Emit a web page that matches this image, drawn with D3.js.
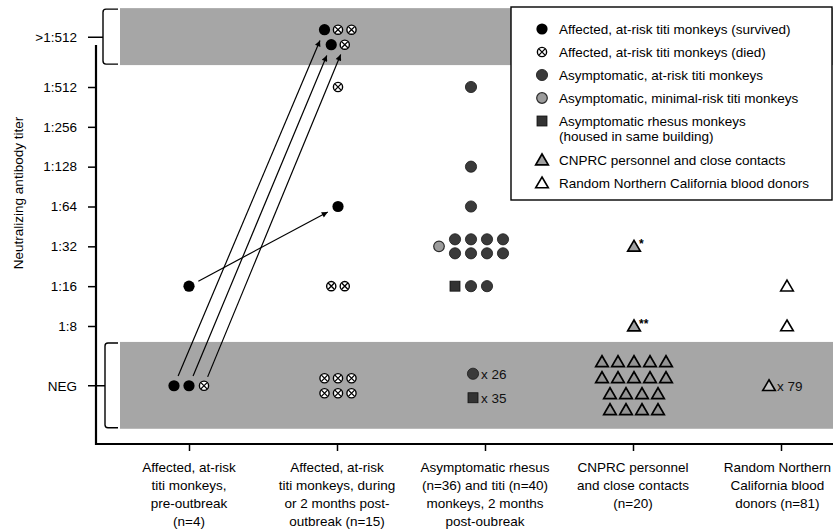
<!DOCTYPE html>
<html><head><meta charset="utf-8">
<script src="https://cdn.jsdelivr.net/npm/d3@7"></script>
<style>
body{margin:0;background:#fff}
svg{display:block;font-family:"Liberation Sans",Arial,sans-serif}
</style>
</head><body>
<svg id="c" width="833" height="529"></svg>
<script>
// ---------- DATA ----------
const groups = ["pre","during","post","cnprc","donors"];
const groupLabels = [
  ["Affected, at-risk","titi monkeys,","pre-outbreak","(n=4)"],
  ["Affected, at-risk","titi monkeys, during","or 2 months post-","outbreak (n=15)"],
  ["Asymptomatic rhesus","(n=36) and titi (n=40)","monkeys, 2 months","post-oubreak"],
  ["CNPRC personnel","and close contacts","(n=20)"],
  ["Random Northern","California blood","donors (n=81)"]
];
const titerLabels = ["NEG","1:8","1:16","1:32","1:64","1:128","1:256","1:512",">1:512"];
const titerLog2   = [1.5, 3, 4, 5, 6, 7, 8, 9, 10.25];
// [group, titer, count]
const survived    = [["pre","NEG",2],["pre","1:16",1],["during",">1:512",2],["during","1:64",1]];
const died        = [["pre","NEG",1],["during",">1:512",3],["during","1:512",1],["during","1:16",2],["during","NEG",6]];
const asymAtRisk  = [["post","1:512",1],["post","1:128",1],["post","1:64",1],["post","1:32",8],["post","1:16",2],["post","NEG",26]];
const asymMinimal = [["post","1:32",1]];
const rhesus      = [["post","1:16",1],["post","NEG",35]];
const cnprc       = [["cnprc","1:32",1],["cnprc","1:8",1],["cnprc","NEG",18]];
const donors      = [["donors","1:16",1],["donors","1:8",1],["donors","NEG",79]];
const legendLabels = [
  ["Affected, at-risk titi monkeys (survived)"],
  ["Affected, at-risk titi monkeys (died)"],
  ["Asymptomatic, at-risk titi monkeys"],
  ["Asymptomatic, minimal-risk titi monkeys"],
  ["Asymptomatic rhesus monkeys","(housed in same building)"],
  ["CNPRC personnel and close contacts"],
  ["Random Northern California blood donors"]
];
const notes = [["cnprc","1:32","*"],["cnprc","1:8","**"]];
// [fromSeries, group, titer, index, toSeries, group, titer, index]
const arrows = [
  ["survived","pre","NEG",0,"survived","during",">1:512",0],
  ["survived","pre","NEG",1,"survived","during",">1:512",1],
  ["died","pre","NEG",0,"died","during",">1:512",2],
  ["survived","pre","1:16",0,"survived","during","1:64",0]
];
const yTitle = "Neutralizing antibody titer";

// ---------- SETUP ----------
const FS = 13.5;
const svg = d3.select("#c");
const x = d3.scalePoint().domain(groups).range([189, 781]);
const y = d3.scaleLinear().domain([3, 9]).range([326, 87]);
const yOf = t => y(titerLog2[titerLabels.indexOf(t)]);

const seriesDefs = [
  {key:"survived", data:survived},
  {key:"died", data:died},
  {key:"asymAtRisk", data:asymAtRisk},
  {key:"asymMinimal", data:asymMinimal},
  {key:"rhesus", data:rhesus},
  {key:"cnprc", data:cnprc},
  {key:"donors", data:donors}
];
const cellOrder = ["rhesus","asymMinimal","survived","died","asymAtRisk","cnprc","donors"];
const collapseAt = 20;
const perRow = [3,3,5,5,5], dxs=[15,13.5,16,16,16], dys=[14,15,14,16,16], shifts=[0,1,-14,1,6];

function drawSymbol(g, key){
  if(key==="survived"){
    g.append("circle").attr("r",5.6).attr("fill","#000");
  } else if(key==="died"){
    g.append("circle").attr("r",4.6).attr("fill","#fff").attr("stroke","#000").attr("stroke-width",1.4);
    const k=3.1;
    g.append("path").attr("d",`M${-k},${-k}L${k},${k}M${-k},${k}L${k},${-k}`).attr("stroke","#000").attr("stroke-width",1.3);
  } else if(key==="asymAtRisk"){
    g.append("circle").attr("r",5.6).attr("fill","#3a3a3a").attr("stroke","#1a1a1a").attr("stroke-width",0.8);
  } else if(key==="asymMinimal"){
    g.append("circle").attr("r",5.3).attr("fill","#9c9c9c").attr("stroke","#2a2a2a").attr("stroke-width",1.2);
  } else if(key==="rhesus"){
    g.append("rect").attr("x",-5).attr("y",-5).attr("width",10).attr("height",10).attr("fill","#333").attr("stroke","#111").attr("stroke-width",0.8);
  } else if(key==="cnprc"){
    g.append("path").attr("d","M0,-6L6.3,4.8L-6.3,4.8Z").attr("fill","#8f8f8f").attr("fill-opacity",0.85).attr("stroke","#000").attr("stroke-width",1.7).attr("stroke-linejoin","miter");
  } else if(key==="donors"){
    g.append("path").attr("d","M0,-6L6.3,4.8L-6.3,4.8Z").attr("fill","#fff").attr("fill-opacity",0.35).attr("stroke","#000").attr("stroke-width",1.6).attr("stroke-linejoin","miter");
  }
}
const radius = {survived:5.6, died:4.6, asymAtRisk:5.6, asymMinimal:5.3, rhesus:5, cnprc:6, donors:6};

// ---------- LAYOUT ----------
const points = [], collapsed = [];
groups.forEach((g,gi)=>{
  titerLabels.forEach(t=>{
    const entries = [];
    seriesDefs.forEach(s=>s.data.forEach(d=>{ if(d[0]===g && d[1]===t) entries.push({key:s.key, n:d[2]}); }));
    if(!entries.length) return;
    const coll = entries.filter(e=>e.n>collapseAt);
    const exp = entries.filter(e=>e.n<=collapseAt).sort((a,b)=>cellOrder.indexOf(a.key)-cellOrder.indexOf(b.key));
    coll.forEach((e,k)=>collapsed.push({key:e.key, n:e.n, x:x(g)-12, y:yOf(t)+(k-(coll.length-1)/2)*24}));
    if(!exp.length) return;
    const total = d3.sum(exp,e=>e.n);
    const cx = x(g)+shifts[gi], cy = yOf(t), dx = dxs[gi], dy = dys[gi];
    const R = Math.ceil(total/perRow[gi]);
    if(R===1){
      let j=0;
      exp.forEach(e=>{ for(let i=0;i<e.n;i++){ points.push({key:e.key,g,t,i,x:cx+(j-(total-1)/2)*dx,y:cy}); j++; } });
    } else {
      const side = exp.filter(e=>e.n===1), main = exp.filter(e=>e.n>1);
      const rows = d3.range(R).map(()=>[]);
      main.forEach(e=>{
        const base=Math.floor(e.n/R), rem=e.n%R; let idx=0;
        for(let r=0;r<R;r++){ const c=base+(r<rem?1:0); for(let j=0;j<c;j++) rows[r].push({key:e.key,i:idx++}); }
      });
      const maxL = d3.max(rows,r=>r.length), W = side.length+maxL;
      const colX = c => cx+(c-(W-1)/2)*dx;
      side.forEach((e,c)=>points.push({key:e.key,g,t,i:0,x:colX(c),y:cy}));
      rows.forEach((row,r)=>{
        const off = side.length+(maxL-row.length)/2;
        row.forEach((p,j)=>points.push({key:p.key,g,t,i:p.i,x:colX(off+j),y:cy+(r-(R-1)/2)*dy}));
      });
    }
  });
});
const findPt = (k,g,t,i)=>points.find(p=>p.key===k&&p.g===g&&p.t===t&&p.i===i);

// ---------- BANDS ----------
const bandX0 = 120;
svg.append("rect").attr("x",bandX0).attr("y",y(10.98)).attr("width",833-bandX0).attr("height",y(9.55)-y(10.98)).attr("fill","#a6a6a6");
svg.append("rect").attr("x",bandX0).attr("y",y(2.6)).attr("width",833-bandX0).attr("height",y(0.42)-y(2.6)).attr("fill","#a6a6a6");

function bracket(bx, y0, y1, ym){
  svg.append("path").attr("d",`M118,${y0}L${bx+3},${y0}Q${bx},${y0} ${bx},${y0+3}L${bx},${y1-3}Q${bx},${y1} ${bx+3},${y1}L118,${y1}M88,${ym}L${bx},${ym}`)
    .attr("fill","none").attr("stroke","#000").attr("stroke-width",1.4);
}
bracket(103, y(10.98)+1, y(9.55)-1, yOf(">1:512"));
bracket(105, y(2.6)+1, y(0.42)-1, yOf("NEG"));

// ---------- AXES ----------
const axY = svg.append("g").attr("transform","translate(96,0)")
  .call(d3.axisLeft(y).tickValues(titerLog2).tickFormat((d,i)=>titerLabels[i]).tickSize(8).tickPadding(11));
axY.select(".domain").remove();
axY.selectAll(".tick line").attr("stroke-width",1.5).attr("x2",(d,i)=> (i===0||i===titerLabels.length-1)?0:-8);
axY.selectAll(".tick text").attr("font-size",FS).attr("font-family","Liberation Sans, Arial, sans-serif").attr("fill","#000");
svg.append("line").attr("x1",96).attr("x2",96).attr("y1",45).attr("y2",445).attr("stroke","#000").attr("stroke-width",2.2);

const axX = svg.append("g").attr("transform","translate(0,444)")
  .call(d3.axisBottom(x).tickSize(7).tickFormat(""));
axX.select(".domain").remove();
axX.selectAll(".tick line").attr("stroke-width",1.5);
svg.append("line").attr("x1",95).attr("x2",833).attr("y1",444).attr("y2",444).attr("stroke","#000").attr("stroke-width",2.2);

groups.forEach((g,gi)=>{
  const tx = svg.append("text").attr("text-anchor","middle").attr("font-size",FS).attr("fill","#000");
  const spans = groupLabels[gi].map((l,k)=>tx.append("tspan").attr("x",x(g)).attr("y",472+k*18).text(l));
  const w = d3.max(spans, s=>s.node().getComputedTextLength());
  const cx = Math.min(x(g), 831 - w/2);
  spans.forEach(s=>s.attr("x",cx));
});

svg.append("text").attr("transform","translate(23,193) rotate(-90)").attr("text-anchor","middle").attr("font-size",FS).text(yTitle);

// ---------- ARROWS ----------
svg.append("defs").append("marker").attr("id","ah").attr("viewBox","0 0 10 10").attr("refX",10).attr("refY",5)
  .attr("markerWidth",8).attr("markerHeight",6).attr("markerUnits","userSpaceOnUse").attr("orient","auto")
  .append("path").attr("d","M0,0L10,5L0,10Z").attr("fill","#000");
arrows.forEach(a=>{
  const p = findPt(a[0],a[1],a[2],a[3]), q = findPt(a[4],a[5],a[6],a[7]);
  const dx=q.x-p.x, dy=q.y-p.y, L=Math.hypot(dx,dy), ux=dx/L, uy=dy/L;
  const s = radius[a[0]]+5, e = radius[a[4]]+6;
  svg.append("line").attr("x1",p.x+ux*s).attr("y1",p.y+uy*s).attr("x2",q.x-ux*e).attr("y2",q.y-uy*e)
    .attr("stroke","#000").attr("stroke-width",1.2).attr("marker-end","url(#ah)");
});

// ---------- POINTS ----------
points.forEach(p=>drawSymbol(svg.append("g").attr("transform",`translate(${p.x},${p.y})`), p.key));
collapsed.forEach(c=>{
  drawSymbol(svg.append("g").attr("transform",`translate(${c.x},${c.y})`), c.key);
  svg.append("text").attr("x",c.x+8).attr("y",c.y+5).attr("font-size",FS).attr("fill","#111").text("x "+c.n);
});
notes.forEach(n=>{
  const p = findPt(n[0], n[0], n[1], 0);
  svg.append("text").attr("x",p.x+5).attr("y",p.y+2).attr("font-size",12).attr("font-weight","bold").text(n[2]);
});

// ---------- LEGEND ----------
const lg = svg.append("g");
lg.append("rect").attr("x",511).attr("y",7).attr("width",321).attr("height",193).attr("fill","#fff").attr("stroke","#000").attr("stroke-width",1.4);
let ly = 29;
seriesDefs.forEach((s,i)=>{
  drawSymbol(lg.append("g").attr("transform",`translate(542,${ly})`), s.key);
  legendLabels[i].forEach((l,k)=>lg.append("text").attr("x",559).attr("y",ly+5+k*15).attr("font-size",FS).attr("fill","#000").text(l));
  ly += 23 + (legendLabels[i].length-1)*16;
});
</script>
</body></html>
